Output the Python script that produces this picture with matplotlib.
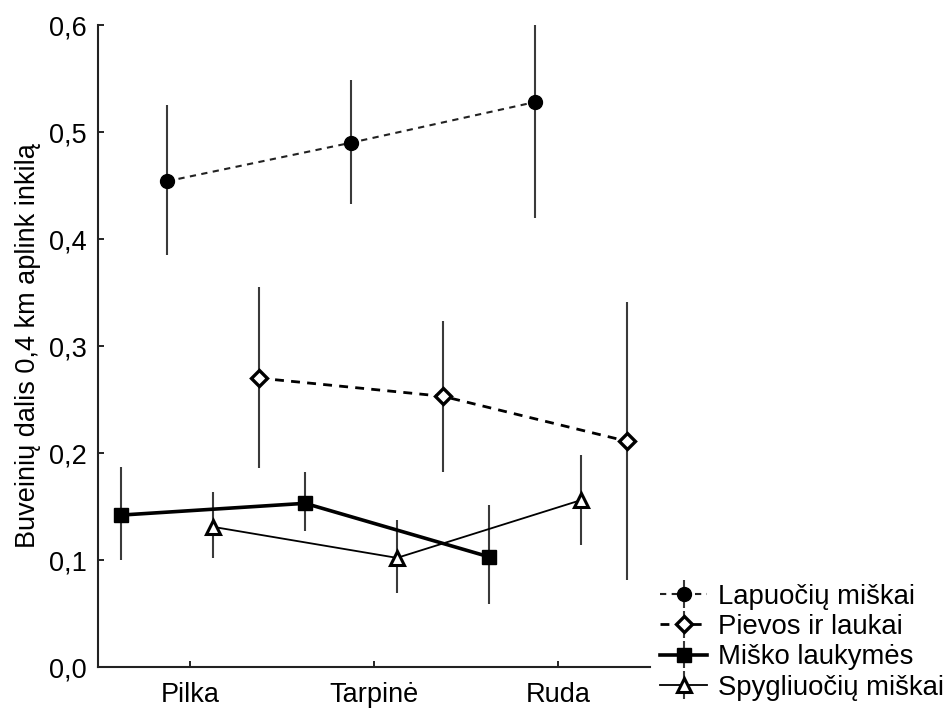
import matplotlib
matplotlib.use("Agg")
import matplotlib.pyplot as plt
from matplotlib.ticker import FuncFormatter
import numpy as np

plt.rcParams['font.family'] = ['Liberation Sans', 'DejaVu Sans']

categories = ['Pilka', 'Tarpinė', 'Ruda']

series_names = ['Lapuočių miškai', 'Pievos ir laukai', 'Miško laukymės', 'Spygliuočių miškai']

# means with lower and upper interval bounds
lapuociu_mean = [0.454, 0.490, 0.528]
lapuociu_low = [0.385, 0.433, 0.420]
lapuociu_high = [0.525, 0.549, 0.600]

pievos_mean = [0.270, 0.253, 0.211]
pievos_low = [0.186, 0.182, 0.081]
pievos_high = [0.355, 0.323, 0.341]

misko_mean = [0.142, 0.153, 0.103]
misko_low = [0.100, 0.127, 0.059]
misko_high = [0.187, 0.182, 0.151]

spygliuociu_mean = [0.131, 0.102, 0.156]
spygliuociu_low = [0.102, 0.069, 0.114]
spygliuociu_high = [0.164, 0.137, 0.198]

yticks = [0.0, 0.1, 0.2, 0.3, 0.4, 0.5, 0.6]

fig = plt.figure(figsize=(9.5, 7.09), dpi=100)
ax = fig.add_axes([0.1032, 0.0592, 0.5810, 0.9055])

x = np.arange(len(categories))

series = [
    (lapuociu_mean, lapuociu_low, lapuociu_high,
     dict(marker='o', ms=10, mfc='black', mec='black', mew=1.0,
          color='#222222', lw=1.5, ls=(0, (3.0, 2.6))), -0.125),
    (pievos_mean, pievos_low, pievos_high,
     dict(marker='D', ms=8.6, mfc='white', mec='black', mew=2.4,
          color='black', lw=2.0, ls=(0, (3.2, 2.6))), 0.375),
    (misko_mean, misko_low, misko_high,
     dict(marker='s', ms=10, mfc='black', mec='black', mew=1.0,
          color='black', lw=2.6, ls='-'), -0.375),
    (spygliuociu_mean, spygliuociu_low, spygliuociu_high,
     dict(marker='^', ms=10.5, mfc='white', mec='black', mew=2.2,
          color='black', lw=1.3, ls='-'), 0.125),
]

handles = []
for (mean, low, high, style, off), name in zip(series, series_names):
    mean = np.asarray(mean)
    yerr = [mean - np.asarray(low), np.asarray(high) - mean]
    cont = ax.errorbar(x + off, mean, yerr=yerr, ecolor='#3a3a3a',
                       elinewidth=1.5, capsize=0, label=name,
                       clip_on=False, zorder=3, **style)
    handles.append(cont)

ax.set_xlim(-0.5, 2.5)
ax.set_ylim(0, 0.6)
ax.set_xticks(x)
ax.set_xticklabels(categories, fontsize=19.5)
ax.set_yticks(yticks)
ax.yaxis.set_major_formatter(FuncFormatter(lambda v, p: f"{v:.1f}".replace('.', ',')))
ax.tick_params(axis='both', direction='in', length=4, width=1.2, labelsize=19.5)
ax.tick_params(axis='y', pad=8)
ax.tick_params(axis='x', pad=11)

for s in ['top', 'right']:
    ax.spines[s].set_visible(False)
for s in ['left', 'bottom']:
    ax.spines[s].set_linewidth(1.5)
    ax.spines[s].set_color('#222222')

ax.set_ylabel('Buveinių dalis 0,4 km aplink inkilą', fontsize=19.5, labelpad=6)

fig.legend(handles, series_names, loc='upper left', bbox_to_anchor=(0.695, 0.177),
           frameon=False, fontsize=19.8, handlelength=1.7, handletextpad=0.4,
           labelspacing=0.16, borderpad=0, borderaxespad=0)

fig.savefig('out.png', dpi=100, facecolor='white')
